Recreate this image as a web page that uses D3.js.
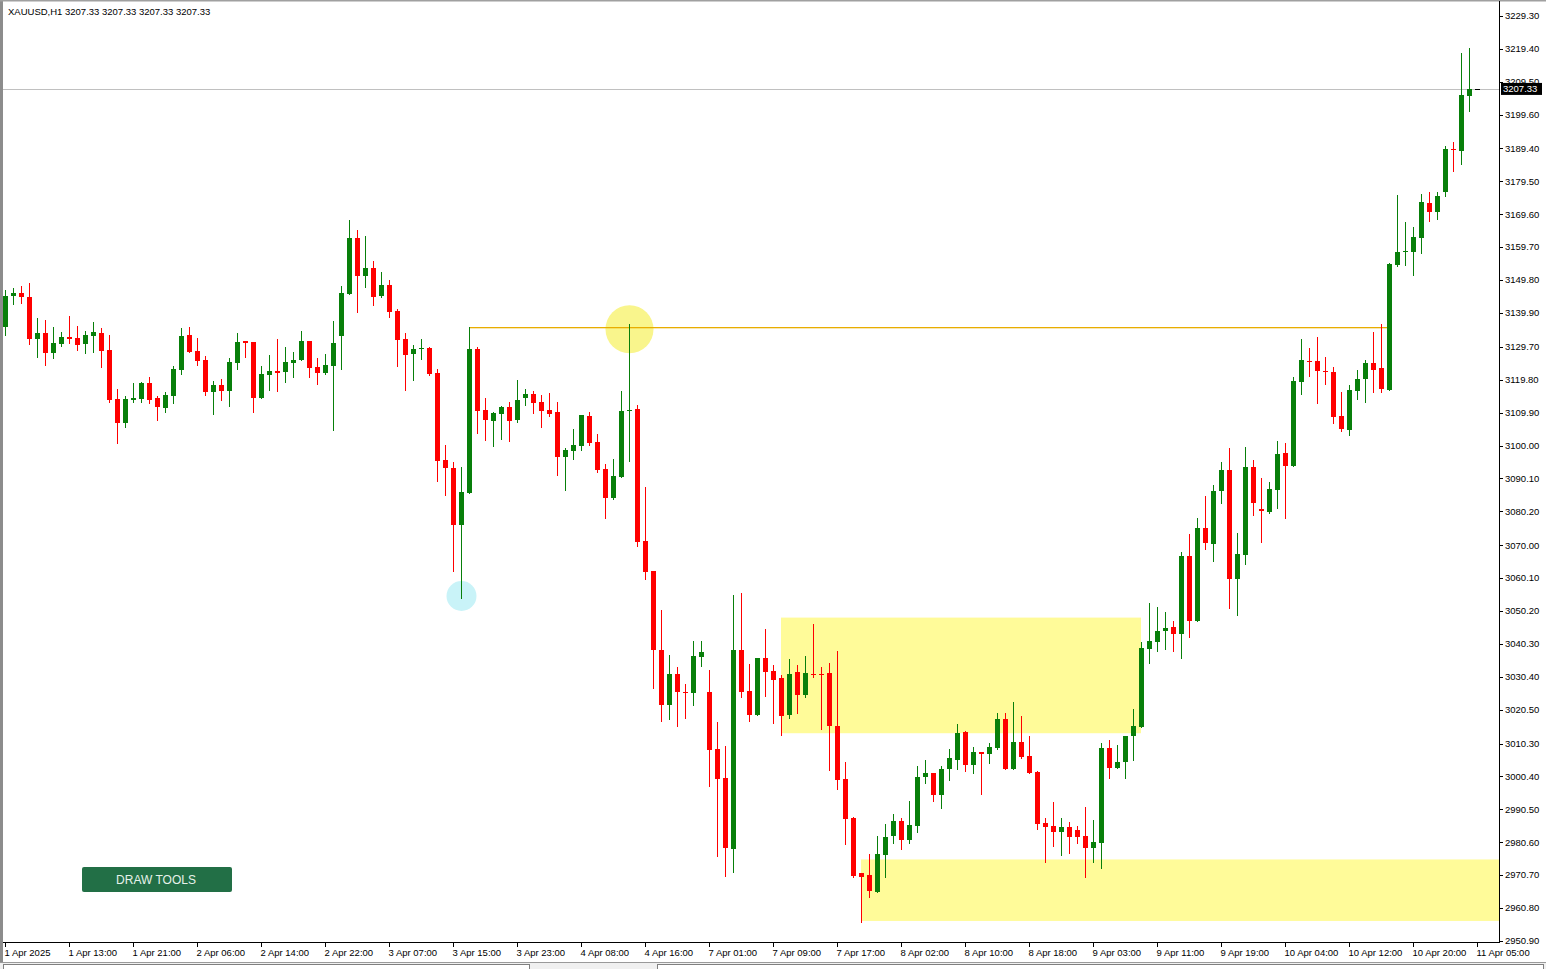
<!DOCTYPE html>
<html>
<head>
<meta charset="utf-8">
<script src="https://cdn.jsdelivr.net/npm/d3@7"></script>
<style>
    body { margin: 0; background: #fff; }
    svg { display: block; }
    text { font-family: "Liberation Sans", Arial, sans-serif; font-size: 9.5px; fill: #000; }
</style>
</head>
<body>
<svg id="chart" width="1546" height="969"></svg>
<script>
// XAUUSD H1, one bar per entry (bar 0 = 1 Apr 05:00)
const opens = [
    3135.7, 3145.0, 3145.8, 3144.6, 3132.0, 3133.8, 3127.8, 3130.6, 3132.7, 3132.4,
    3130.5, 3133.1, 3133.9, 3128.8, 3113.9, 3106.7, 3113.7, 3113.9, 3118.7, 3114.4,
    3111.4, 3115.0, 3122.7, 3133.3, 3128.5, 3125.7, 3116.2, 3118.2, 3116.5, 3124.9,
    3131.4, 3131.2, 3114.4, 3121.3, 3122.3, 3122.1, 3124.9, 3125.8, 3131.5, 3123.6,
    3121.8, 3124.0, 3133.0, 3145.7, 3162.5, 3151.1, 3153.4, 3145.0, 3148.3, 3140.5,
    3132.1, 3127.6, 3129.0, 3129.4, 3121.8, 3095.6, 3093.3, 3076.2, 3085.8, 3129.1,
    3110.7, 3107.5, 3109.6, 3111.5, 3107.7, 3114.4, 3115.4, 3113.0, 3110.7, 3110.0,
    3096.6, 3098.4, 3099.9, 3108.9, 3101.0, 3092.9, 3084.1, 3090.6, 3110.3, 3111.0,
    3071.2, 3062.2, 3038.4, 3021.9, 3031.2, 3025.9, 3025.6, 3036.4, 3025.7, 3008.6,
    2999.9, 2978.6, 3038.4, 3026.1, 3018.9, 3036.0, 3032.1, 3030.1, 3018.9, 3031.7,
    3024.9, 3031.3, 3031.2, 3031.4, 3015.6, 2999.5, 2988.0, 2971.2, 2970.7, 2965.7,
    2976.7, 2982.5, 2987.0, 2981.3, 2985.5, 3000.1, 3001.3, 2994.8, 3002.5, 3005.3,
    3013.7, 3003.8, 3007.7, 3007.1, 3008.9, 3017.6, 3002.6, 3010.7, 3006.5, 3001.8,
    2986.3, 2985.5, 2983.8, 2985.1, 2984.3, 2982.5, 2978.8, 2980.5, 3008.9, 3003.0,
    3004.6, 3012.6, 3015.4, 3038.8, 3041.0, 3044.1, 3045.3, 3043.2, 3066.7, 3047.3,
    3075.1, 3070.4, 3086.3, 3092.6, 3059.7, 3067.0, 3093.6, 3080.8, 3079.9, 3086.6,
    3097.7, 3093.9, 3119.2, 3125.5, 3125.4, 3122.3, 3122.2, 3108.9, 3104.7, 3116.5,
    3120.0, 3124.9, 3123.4, 3116.7, 3154.3, 3158.2, 3158.3, 3162.6, 3173.1, 3170.4,
    3176.3, 3189.2, 3188.7, 3205.3, 3207.33
];
const highs = [
    3146.8, 3147.3, 3148.0, 3148.8, 3138.3, 3137.8, 3135.6, 3134.1, 3139.0, 3136.0,
    3134.5, 3137.1, 3135.4, 3133.3, 3116.9, 3114.9, 3118.7, 3119.2, 3120.7, 3114.9,
    3116.2, 3123.9, 3135.5, 3135.8, 3132.4, 3126.9, 3119.4, 3119.9, 3126.3, 3133.8,
    3131.5, 3131.3, 3123.9, 3127.2, 3132.1, 3129.6, 3128.1, 3134.5, 3131.6, 3126.3,
    3127.5, 3137.5, 3148.0, 3167.9, 3164.9, 3163.0, 3155.5, 3152.2, 3149.8, 3141.1,
    3133.8, 3130.3, 3132.1, 3129.6, 3122.9, 3100.2, 3095.0, 3093.4, 3135.6, 3129.7,
    3114.3, 3110.0, 3111.9, 3113.2, 3119.7, 3117.0, 3116.4, 3115.2, 3115.7, 3113.0,
    3099.2, 3105.0, 3109.3, 3110.0, 3103.4, 3094.3, 3095.9, 3116.4, 3136.6, 3112.2,
    3087.4, 3062.3, 3050.5, 3036.9, 3033.4, 3028.2, 3041.3, 3041.3, 3032.4, 3016.7,
    3009.6, 3055.0, 3055.5, 3034.2, 3036.1, 3044.7, 3033.9, 3030.9, 3035.7, 3033.9,
    3036.6, 3046.3, 3033.2, 3034.4, 3038.1, 3004.8, 2988.2, 2971.3, 2977.0, 2982.5,
    2986.0, 2989.0, 2988.0, 2993.0, 3003.5, 3005.3, 3001.4, 3003.5, 3008.6, 3016.2,
    3014.2, 3009.3, 3007.8, 3010.4, 3019.4, 3019.6, 3022.9, 3018.6, 3012.6, 3001.9,
    2987.8, 2992.8, 2987.8, 2986.8, 2985.5, 2991.1, 2987.3, 3010.4, 3011.4, 3009.9,
    3012.7, 3020.6, 3041.0, 3052.5, 3051.3, 3050.0, 3047.2, 3068.0, 3073.3, 3078.1,
    3084.8, 3088.1, 3095.0, 3099.2, 3073.6, 3099.6, 3095.6, 3090.3, 3089.1, 3101.4,
    3100.8, 3120.7, 3132.1, 3129.4, 3132.8, 3126.7, 3123.5, 3116.0, 3118.2, 3122.7,
    3125.7, 3134.3, 3136.6, 3154.8, 3175.4, 3167.4, 3165.9, 3175.7, 3176.4, 3176.2,
    3190.2, 3191.4, 3218.2, 3219.6, 3207.33
];
const lows = [
    3133.3, 3142.5, 3142.8, 3130.6, 3126.6, 3124.1, 3126.3, 3130.0, 3130.8, 3128.8,
    3127.8, 3128.1, 3123.7, 3113.2, 3100.8, 3105.7, 3113.2, 3113.2, 3112.7, 3107.7,
    3110.2, 3112.9, 3121.4, 3128.0, 3124.2, 3115.2, 3109.5, 3113.7, 3111.9, 3123.0,
    3126.7, 3110.0, 3114.3, 3116.7, 3116.5, 3119.0, 3120.7, 3125.7, 3120.7, 3118.6,
    3121.5, 3104.7, 3123.1, 3145.6, 3140.3, 3147.8, 3142.4, 3144.6, 3138.8, 3123.9,
    3116.6, 3119.7, 3126.1, 3121.3, 3089.4, 3085.1, 3062.2, 3054.2, 3085.7, 3103.9,
    3101.7, 3099.9, 3102.1, 3101.5, 3107.2, 3112.2, 3109.9, 3105.7, 3109.0, 3091.1,
    3086.6, 3095.9, 3098.7, 3100.2, 3091.9, 3078.3, 3083.9, 3090.5, 3095.4, 3069.8,
    3059.7, 3027.1, 3017.1, 3017.7, 3015.7, 3018.0, 3021.9, 3033.6, 2997.5, 2976.5,
    2970.4, 2971.7, 3024.2, 3017.2, 3018.8, 3024.7, 3016.6, 3012.9, 3017.9, 3019.6,
    3024.2, 3030.4, 3014.7, 3002.3, 2996.6, 2980.1, 2970.2, 2956.7, 2964.2, 2965.6,
    2970.2, 2980.3, 2978.6, 2980.5, 2983.8, 2998.3, 2993.1, 2991.0, 2999.3, 3002.5,
    3002.1, 3001.3, 2995.0, 3004.3, 3008.8, 3002.5, 3002.5, 3005.9, 3001.3, 2984.5,
    2974.7, 2979.5, 2976.7, 2977.3, 2980.3, 2970.2, 2974.7, 2972.7, 3000.0, 3002.8,
    2999.8, 3005.3, 3015.3, 3034.4, 3038.2, 3038.8, 3038.2, 3036.1, 3042.5, 3047.2,
    3068.8, 3065.2, 3082.6, 3051.0, 3049.0, 3064.2, 3079.1, 3070.9, 3079.6, 3081.3,
    3078.3, 3093.8, 3115.4, 3121.0, 3112.7, 3118.5, 3106.7, 3104.5, 3103.2, 3114.0,
    3113.2, 3116.2, 3116.0, 3116.6, 3154.0, 3154.3, 3151.3, 3157.9, 3167.6, 3168.2,
    3175.2, 3182.7, 3184.7, 3200.7, 3207.33
];
const closes = [
    3145.0, 3145.8, 3144.6, 3132.0, 3133.8, 3127.8, 3130.8, 3132.7, 3132.2, 3130.3,
    3133.3, 3134.1, 3128.5, 3113.7, 3106.7, 3113.9, 3114.2, 3118.9, 3113.7, 3111.5,
    3115.2, 3123.0, 3133.0, 3128.2, 3125.5, 3116.2, 3118.2, 3116.5, 3125.1, 3131.2,
    3131.0, 3114.4, 3121.5, 3122.3, 3121.9, 3125.0, 3125.7, 3131.5, 3123.4, 3121.8,
    3124.2, 3130.9, 3145.9, 3162.5, 3151.1, 3153.4, 3144.8, 3148.3, 3140.3, 3131.8,
    3127.3, 3129.0, 3129.4, 3121.5, 3095.4, 3093.1, 3076.2, 3086.0, 3129.1, 3110.5,
    3107.7, 3109.7, 3111.5, 3107.5, 3113.7, 3115.4, 3112.9, 3110.4, 3109.4, 3096.6,
    3098.7, 3100.2, 3109.2, 3100.7, 3092.6, 3084.3, 3090.8, 3110.4, 3110.7, 3071.0,
    3062.0, 3038.4, 3021.9, 3031.2, 3025.9, 3025.7, 3036.6, 3037.9, 3008.4, 2999.6,
    2978.9, 3038.4, 3025.8, 3018.9, 3036.0, 3031.9, 3029.4, 3018.6, 3031.2, 3024.9,
    3031.5, 3031.0, 3030.9, 3015.6, 2999.3, 2987.6, 2970.4, 2970.2, 2966.0, 2977.0,
    2982.1, 2987.0, 2981.3, 2985.8, 3000.1, 3001.3, 2994.8, 3002.5, 3005.9, 3013.4,
    3003.8, 3007.7, 3007.1, 3009.2, 3017.6, 3002.6, 3010.7, 3006.3, 3001.5, 2986.1,
    2985.3, 2983.8, 2985.1, 2982.1, 2982.1, 2978.8, 2980.6, 3008.9, 3003.0, 3004.6,
    3012.6, 3015.6, 3039.0, 3041.2, 3044.2, 3045.0, 3043.2, 3066.7, 3047.3, 3075.1,
    3070.6, 3086.3, 3092.6, 3059.7, 3067.3, 3093.6, 3082.6, 3080.3, 3086.8, 3097.4,
    3093.9, 3119.5, 3125.7, 3125.2, 3122.4, 3122.0, 3108.7, 3104.9, 3116.7, 3120.0,
    3124.9, 3122.7, 3116.9, 3154.6, 3158.3, 3158.6, 3162.9, 3173.4, 3170.4, 3175.1,
    3189.3, 3188.9, 3205.5, 3207.33, 3207.33
];

// time axis labels, one every 8 bars
const timeLabels = [
    "1 Apr 2025", "1 Apr 13:00", "1 Apr 21:00", "2 Apr 06:00", "2 Apr 14:00", "2 Apr 22:00",
    "3 Apr 07:00", "3 Apr 15:00", "3 Apr 23:00", "4 Apr 08:00", "4 Apr 16:00", "7 Apr 01:00",
    "7 Apr 09:00", "7 Apr 17:00", "8 Apr 02:00", "8 Apr 10:00", "8 Apr 18:00", "9 Apr 03:00",
    "9 Apr 11:00", "9 Apr 19:00", "10 Apr 04:00", "10 Apr 12:00", "10 Apr 20:00", "11 Apr 05:00"
];
const labelStep = 8;

// price axis labels
const priceTicks = [
    3229.30, 3219.40, 3209.50, 3199.60, 3189.40, 3179.50, 3169.60, 3159.70, 3149.80, 3139.90,
    3129.70, 3119.80, 3109.90, 3100.00, 3090.10, 3080.20, 3070.00, 3060.10, 3050.20, 3040.30,
    3030.40, 3020.50, 3010.30, 3000.40, 2990.50, 2980.60, 2970.70, 2960.80, 2950.90
];

const symbolTitle = "XAUUSD,H1  3207.33 3207.33 3207.33 3207.33";
const lastPrice = 3207.33;

// drawn objects: [startBar, endBar (null = chart edge), top, bottom]
const zoneStarts = [97, 107];
const zoneEnds = [142, null];
const zoneTops = [3048.2, 2975.4];
const zoneBottoms = [3013.4, 2956.9];

// horizontal level from bar 58 to bar 173
const levelBars = [58, 173];
const levelPrice = 3135.6;

// marker circles: bar, price
const markerBars = [78, 57];
const markerPrices = [3135.0, 3054.7];

const bullColor = '#087f0a';
const bearColor = '#ff0000';

let svg = d3.select('#chart');
const plotRight = 1499, plotBottom = 942;

// scales
let x = d3.scaleLinear().domain([0, 184]).range([5, 1477]);
let y = d3.scaleLinear().domain([2951.16, 3229.28]).range([940, 16]);

// frame
svg.append('rect').attr('x', 0).attr('y', 0).attr('width', 1546).attr('height', 969).attr('fill', '#fff');
svg.append('rect').attr('x', 0).attr('y', 0).attr('width', 3).attr('height', 962).attr('fill', '#8c8c8c');
svg.append('rect').attr('x', 0).attr('y', 0).attr('width', 1546).attr('height', 1.5).attr('fill', '#a0a0a0');

// zones (background objects)
let zoneData = zoneStarts.map((s, i) => ({s: s, e: zoneEnds[i], top: zoneTops[i], bot: zoneBottoms[i]}));
svg.append('g').selectAll('rect')
    .data(zoneData)
    .enter().append('rect')
    .attr('x', d => x(d.s))
    .attr('width', d => (d.e === null ? plotRight : x(d.e)) - x(d.s))
    .attr('y', d => y(d.top))
    .attr('height', d => y(d.bot) - y(d.top))
    .attr('fill', '#fffb99');

// marker circles
let markerColors = ['#f9f58c', '#c9f3f8'];
let markerRadius = [24, 15];
svg.append('g').selectAll('circle')
    .data(markerBars)
    .enter().append('circle')
    .attr('cx', d => x(d) + 0.5)
    .attr('cy', (d, i) => y(markerPrices[i]))
    .attr('r', (d, i) => markerRadius[i])
    .attr('fill', (d, i) => markerColors[i]);

// level line
let levelY = Math.round(y(levelPrice));
svg.append('rect')
    .attr('x', x(levelBars[0])).attr('width', x(levelBars[1]) - x(levelBars[0]))
    .attr('y', levelY).attr('height', 1.3)
    .attr('fill', '#e8ad00');

// current price line
svg.append('line')
    .attr('x1', 3).attr('x2', plotRight)
    .attr('y1', Math.round(y(lastPrice)) + 0.5).attr('y2', Math.round(y(lastPrice)) + 0.5)
    .attr('stroke', '#c0c0c0')
    .attr('shape-rendering', 'crispEdges');

// candles
let bars = d3.range(opens.length).map(i => ({i: i, o: opens[i], h: highs[i], l: lows[i], c: closes[i]}));
let barColor = d => d.c > d.o ? bullColor : (d.c < d.o ? bearColor : '#000');

let cg = svg.append('g').attr('shape-rendering', 'crispEdges');
cg.selectAll('rect.wick')
    .data(bars)
    .enter().append('rect')
    .attr('class', 'wick')
    .attr('x', d => x(d.i))
    .attr('width', 1)
    .attr('y', d => Math.round(y(d.h)))
    .attr('height', d => Math.max(1, Math.round(y(d.l)) - Math.round(y(d.h)) + 1))
    .attr('fill', barColor);

cg.selectAll('rect.body')
    .data(bars)
    .enter().append('rect')
    .attr('class', 'body')
    .attr('x', d => x(d.i) - 2)
    .attr('width', 5)
    .attr('y', d => Math.round(y(Math.max(d.o, d.c))))
    .attr('height', d => Math.max(1, Math.round(y(Math.min(d.o, d.c))) - Math.round(y(Math.max(d.o, d.c)))))
    .attr('fill', barColor);

// axes lines
svg.append('line').attr('x1', plotRight + 0.5).attr('x2', plotRight + 0.5).attr('y1', 1).attr('y2', plotBottom + 1)
    .attr('stroke', '#000');
svg.append('line').attr('x1', 3).attr('x2', plotRight + 1).attr('y1', plotBottom + 0.5).attr('y2', plotBottom + 0.5)
    .attr('stroke', '#000');

// price axis (the label under the last-price box stays partly hidden, as in MT4)
let pa = svg.append('g');
pa.selectAll('line')
    .data(priceTicks)
    .enter().append('line')
    .attr('x1', plotRight).attr('x2', plotRight + 4)
    .attr('y1', d => Math.round(y(d)) + 0.5).attr('y2', d => Math.round(y(d)) + 0.5)
    .attr('stroke', '#000');
pa.selectAll('text')
    .data(priceTicks)
    .enter().append('text')
    .attr('x', plotRight + 6)
    .attr('y', d => y(d))
    .attr('dy', '0.35em')
    .text(d => d3.format('.2f')(d));

// last price box
let ly = y(lastPrice);
svg.append('rect').attr('x', plotRight + 2).attr('y', ly - 6).attr('width', 41).attr('height', 12).attr('fill', '#000');
svg.append('text').attr('x', plotRight + 4).attr('y', ly).attr('dy', '0.35em')
    .style('fill', '#fff').text(d3.format('.2f')(lastPrice));

// time axis
let ta = svg.append('g');
ta.selectAll('line')
    .data(timeLabels)
    .enter().append('line')
    .attr('x1', (d, i) => x(i * labelStep) + 0.5).attr('x2', (d, i) => x(i * labelStep) + 0.5)
    .attr('y1', plotBottom).attr('y2', plotBottom + 5)
    .attr('stroke', '#000');
ta.selectAll('text')
    .data(timeLabels)
    .enter().append('text')
    .attr('x', (d, i) => x(i * labelStep) - 0.5)
    .attr('y', 956)
    .text(d => d);

// title
svg.append('text').attr('x', 8).attr('y', 15).text(symbolTitle);

// draw tools button
svg.append('rect').attr('x', 82).attr('y', 867).attr('width', 150).attr('height', 25).attr('rx', 2)
    .attr('fill', '#226f46');
svg.append('text').attr('x', 156).attr('y', 880).attr('dy', '0.35em').attr('text-anchor', 'middle')
    .style('font-size', '12px').style('fill', '#e6f2ea').text('DRAW TOOLS');

// bottom tab strip
svg.append('rect').attr('x', 0).attr('y', 962).attr('width', 1546).attr('height', 7).attr('fill', '#f0f0f0');
svg.append('line').attr('x1', 0).attr('x2', 1546).attr('y1', 962.5).attr('y2', 962.5).attr('stroke', '#9a9a9a');
svg.append('rect').attr('x', 3.5).attr('y', 964.5).attr('width', 526).attr('height', 6)
    .attr('fill', '#fff').attr('stroke', '#808080');
svg.append('rect').attr('x', 657.5).attr('y', 964.5).attr('width', 886).attr('height', 6)
    .attr('fill', '#fff').attr('stroke', '#808080');
</script>
</body>
</html>
